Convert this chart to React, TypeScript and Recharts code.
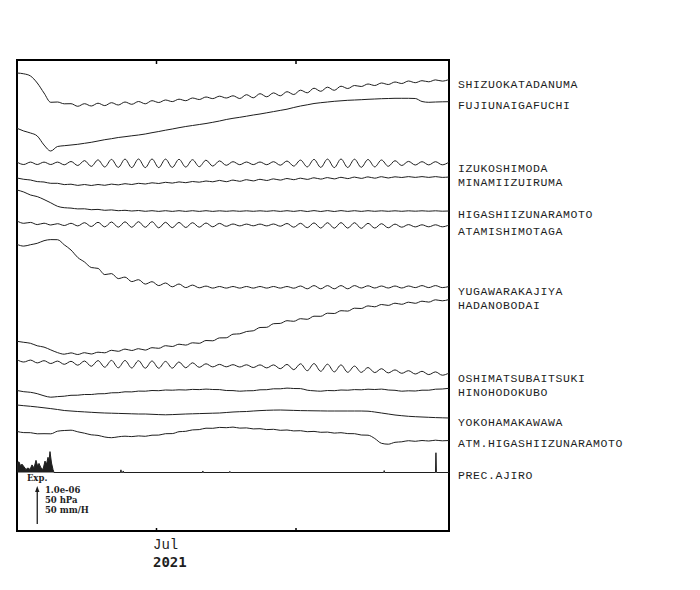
import React from 'react';
import {
  ComposedChart, Line, Area, XAxis, YAxis, ReferenceArea, ReferenceLine, ReferenceDot,
} from 'recharts';

// sample times: days since 31 May 2021, one every 1.5 days
const days = Array.from({ length: 65 }, (_, i) => i * 1.5);

// trace readings, chart units (SCALE units = 1.0e-06), relative to each trace's end level
const shizuoka = [
  7.0, 6.2, 4, -3, -13, -22.3, -22, -23.8, -23.7, -26.3,
  -23.7, -26, -23.2, -25.6, -22.7, -25, -22, -24.3, -21.5, -23.8,
  -20.7, -22.5, -20, -21.6, -19.2, -20.7, -18, -19.5, -17, -18.6,
  -16.2, -18, -15.8, -18.5, -14.7, -17.8, -13.7, -16.8, -12.9, -15.8,
  -11.7, -14.5, -10.2, -12.8, -8.2, -11.3, -7.2, -10.3, -6.2, -8.5,
  -5.5, -6.5, -4, -5.5, -3, -4.5, -2, -3.5, -1, -2.7,
  -0.7, -1.8, 0.1, -1.1, 0.5,
];
const fujiunai = [
  -26.3, -29, -31, -34, -43, -49, -44.5, -43.7, -43, -42.3,
  -41.3, -40.3, -39, -37.7, -36.7, -35.5, -34.7, -33.8, -33, -32,
  -30.7, -29.5, -28.2, -27, -25.7, -24.5, -23.5, -22.5, -21.5, -20.3,
  -19, -17.5, -16.3, -15.3, -14.2, -13, -12, -10.8, -9.6, -8.4,
  -7.2, -5.5, -4, -2.8, -1.5, -0.7, 0, 0.7, 1.2, 1.7,
  2, 2.3, 2.7, 3, 3.3, 3.5, 3.7, 3.7, 3.7, 3.5,
  0.5, -0.3, 0, 0.2, 0.3,
];
const izukoshimoda = [
  0.9, -1.5, 0.9, -1.5, 0.9, -1.5, 0.9, -1.8, 1.5, -2.5,
  2.4, -3.4, 3.1, -4.0, 3.6, -4.4, 3.9, -4.6, 4.0, -4.6,
  4.0, -4.6, 3.9, -4.4, 3.7, -4.1, 3.3, -3.7, 2.8, -3.1,
  2.1, -2.3, 1.3, -1.7, 1.0, -1.6, 1.0, -1.7, 1.3, -2.2,
  2.0, -3.1, 2.9, -3.9, 3.6, -4.4, 3.9, -4.6, 4.0, -4.5,
  3.8, -4.3, 3.5, -3.9, 3.0, -3.3, 2.3, -2.5, 1.6, -2.0,
  1.3, -1.9, 1.3, -1.8, 0.9,
];
const minamiizu = [
  -1.0, -2.3, -3.0, -4.6, -5.0, -6.3, -6.3, -7.6, -7.2, -8.4,
  -7.5, -8.5, -7.5, -8.3, -7.1, -7.9, -6.7, -7.5, -6.3, -7.0,
  -5.8, -6.5, -5.3, -6.1, -4.9, -5.7, -4.5, -5.2, -4.0, -4.8,
  -3.4, -4.7, -3.1, -4.3, -2.7, -3.9, -2.3, -3.5, -1.9, -3.1,
  -1.5, -2.7, -1.2, -2.4, -0.8, -2.1, -0.6, -1.9, -0.3, -1.6,
  -0.1, -1.4, 0.1, -1.2, 0.3, -1.0, 0.2, -0.5, 0.4, -0.4,
  0.4, -0.4, 0.4, -0.4, 0,
];
const higashiizu = [
  21, 19, 16, 14.4, 11.5, 8.2, 4.7, 3.3, 2.9, 2.1,
  2.2, 1.3, 1.6, 0.7, 1.1, 0.3, 0.7, 0, 0.5, -0.3,
  0.3, -0.4, 0.3, -0.4, 0.3, -0.4, 0.3, -0.4, 0.3, -0.4,
  0.2, -0.3, 0.2, -0.3, 0.2, -0.3, 0.2, -0.3, 0.3, -0.4,
  0.3, -0.4, 0.4, -0.5, 0.4, -0.5, 0.4, -0.5, 0.4, -0.4,
  0.3, -0.4, 0.3, -0.3, 0.2, -0.3, 0.2, -0.3, 0.2, -0.2,
  0.2, -0.2, 0.2, -0.2, 0,
];
const atami = [
  5.1, 2.7, 3.6, 1.4, 2.8, 1.0, 2.3, 0.5, 2.7, 0.1,
  3.3, -0.5, 3.7, -0.9, 4.0, -1.2, 4.2, -1.3, 4.3, -1.3,
  4.3, -1.8, 3.7, -1.7, 3.6, -1.5, 3.3, -1.2, 3.0, -0.8,
  2.6, -0.3, 2.0, 0.1, 1.9, 0.2, 1.9, 0.1, 2.0, -0.2,
  2.5, -1.2, 2.7, -1.7, 3.1, -2.1, 3.3, -2.2, 3.4, -2.1,
  3.3, -2.4, 2.7, -2.1, 2.3, -1.8, 1.9, -1.2, 1.4, -0.9,
  1.2, -0.8, 1.2, -0.8, 1.0,
];
const yugawara = [
  42.1, 40.4, 41.8, 43.2, 45.8, 46.9, 46.8, 41.7, 36.5, 29.0,
  24.5, 19.0, 18.1, 11.9, 12.9, 7.9, 9.4, 4.9, 6.8, 2.4,
  4.8, 0.9, 3.5, -0.3, 2.5, -1.1, 1.4, -1.3, 0.4, -1.6,
  0.0, -1.6, 0.0, -1.6, 0.0, -1.6, 0.0, -1.6, 0.0, -1.6,
  0.0, -1.7, 0.5, -2.3, 0.9, -2.3, 0.9, -2.3, 0.9, -2.3,
  0.9, -1.5, 0.7, -1.5, 0.5, -1.5, 0.5, -1.5, 0.5, -1.1,
  0.9, -1.1, 0.9, -1.1, 0,
];
const hadano = [
  -41.8, -42.8, -43.8, -46.3, -47.6, -50.4, -53.1, -54.7, -53.4, -55.0,
  -53.2, -54.5, -52.7, -53.3, -50.8, -51.8, -49.6, -51.0, -49.2, -50.6,
  -48.2, -48.8, -46.2, -47.0, -44.7, -45.6, -43.3, -43.8, -41.0, -41.3,
  -38.4, -38.3, -34.7, -34.3, -32.0, -31.3, -28.0, -27.8, -24.2, -23.9,
  -21.2, -21.8, -19.2, -19.8, -16.7, -16.8, -13.7, -14.0, -11.2, -11.6,
  -8.7, -9.0, -6.4, -7.3, -5.0, -5.9, -3.7, -4.8, -2.7, -3.8,
  -1.7, -2.6, -0.3, -1.3, 0,
];
const oshima = [
  14.3, 12.0, 13.9, 11.1, 13.3, 10.5, 12.9, 9.7, 12.7, 8.8,
  13.0, 7.7, 13.4, 6.8, 13.6, 6.2, 13.5, 6.0, 13.3, 5.8,
  13.0, 5.8, 12.6, 5.9, 12.0, 6.2, 11.2, 6.7, 10.2, 7.1,
  9.6, 7.2, 9.3, 7.0, 9.2, 6.5, 9.1, 6.1, 9.1, 5.3,
  9.6, 4.3, 10.2, 3.3, 10.4, 2.7, 9.8, 2.1, 9.1, 1.7,
  7.9, 1.6, 6.5, 1.4, 5.3, 1.1, 4.1, 0.7, 3.3, 0.0,
  2.7, -0.6, 2.1, -1.2, 1.0,
];
const hinohodo = [
  -2.5, -3.7, -4.3, -5.7, -7.8, -9.2, -8.6, -8.2, -7.3, -7.2,
  -6.5, -6.5, -5.8, -5.7, -4.8, -4.7, -3.8, -3.9, -3.1, -3.2,
  -2.5, -2.7, -2.0, -2.2, -1.8, -2.0, -1.4, -1.6, -1.1, -1.5,
  -1.6, -2.5, -2.6, -3.2, -2.8, -2.7, -1.8, -1.7, -0.8, -0.8,
  -0.1, -0.5, -0.6, -2.2, -2.8, -3.2, -2.5, -2.7, -2.0, -2.2,
  -1.6, -1.8, -1.2, -1.5, -1.1, -2.0, -2.3, -3.2, -2.8, -3.0,
  -2.2, -2.2, -1.2, -1.0, -0.3,
];
const yokohama = [
  13, 12.3, 11.7, 11, 10.2, 9.4, 8.5, 7.5, 7, 6.5,
  6.1, 5.7, 5.3, 5, 4.8, 4.6, 4.4, 4.2, 4, 4,
  3.7, 3.4, 3.2, 3.4, 3.7, 4, 4.2, 4.4, 4.6, 4.8,
  5, 5.5, 6, 6.3, 6.5, 7, 7.4, 7.7, 7.9, 8,
  7.8, 7.6, 7.4, 7.3, 7.2, 7.1, 7, 7, 7, 7,
  7, 7, 6.8, 6, 5, 4, 3, 2.3, 1.7, 1.3,
  1, 0.7, 0.4, 0.2, 0,
];
const atmPressure = [
  8.1, 6.9, 6.8, 5.7, 5.8, 5.7, 8.3, 9.0, 9.3, 7.7,
  6.3, 4.7, 4.1, 2.5, 1.8, 2.7, 3.3, 2.9, 3.6, 3.2,
  4.3, 4.4, 5.8, 5.9, 7.8, 8.2, 9.6, 9.9, 11.3, 11.2,
  12.1, 11.8, 12.4, 11.4, 11.6, 10.6, 10.8, 9.9, 10.2, 9.2,
  9.5, 8.6, 8.8, 7.8, 8.1, 7.2, 7.4, 6.4, 6.8, 5.9,
  5.8, 4.5, 4.3, 1.0, -3.8, -4.7, -2.8, -2.3, -1.2, -1.8,
  -1.0, -1.5, -0.7, -1.3, -1.0,
];

// precipitation at Ajiro, mm/H
const rainDays = [
  0, 0.44, 0.78, 1.11, 1.56, 2.0, 2.44, 2.89, 3.33, 3.78,
  4.22, 4.56, 4.89, 5.33, 5.78, 6.22, 6.56, 6.89, 7.11, 7.33,
  7.67, 8.0, 8.22, 23.0, 23.1, 23.2, 23.5, 23.6, 23.7, 41.2,
  41.3, 41.4, 47.2, 47.3, 47.4, 81.5, 81.6, 81.7, 93.0, 93.1,
  93.2, 96,
];
const rainMm = [
  12.5, 14, 9, 11, 7.5, 4, 6, 4, 10, 6,
  16, 9, 12, 6, 4, 15, 11, 20, 15, 27.5,
  12.5, 4, 0, 0, 3.5, 0, 0, 2, 0, 0,
  2, 0, 0, 1.5, 0, 0, 2.5, 0, 0, 26,
  0, 0,
];

const stations = [
  'SHIZUOKATADANUMA', 'FUJIUNAIGAFUCHI', 'IZUKOSHIMODA', 'MINAMIIZUIRUMA',
  'HIGASHIIZUNARAMOTO', 'ATAMISHIMOTAGA', 'YUGAWARAKAJIYA', 'HADANOBODAI',
  'OSHIMATSUBAITSUKI', 'HINOHODOKUBO', 'YOKOHAMAKAWAWA', 'ATM.HIGASHIIZUNARAMOTO',
  'PREC.AJIRO',
];
const traces = [
  shizuoka, fujiunai, izukoshimoda, minamiizu, higashiizu, atami,
  yugawara, hadano, oshima, hinohodo, yokohama, atmPressure,
];
// stacking: where each trace ends, and where its name sits
const offsets = [451, 429, 368, 354, 320, 305, 244.5, 231.5, 157, 143, 113, 91.5];
const RAIN_BASE = 58.5;
const labelAt = [447, 426, 363, 349.5, 316.7, 300.5, 240.5, 226.5, 153, 139.5, 109.5, 87.7, 56];

const SCALE = 38; // chart units for 1.0e-06 / 50 hPa / 50 mm/H
const TOP = 471;
const monthTicks = [31, 62];

const rows = days.map((day, i) => {
  const r: Record<string, number> = { day };
  traces.forEach((t, k) => { r[`s${k}`] = offsets[k] + t[i]; });
  return r;
});
const rainRows = rainDays.map((day, i) => ({ day, rain: RAIN_BASE + (rainMm[i] * SCALE) / 50 }));
const nameAt = new Map(labelAt.map((v, i) => [v, stations[i]]));

const INK = '#1e1e1e';

function MonthTick({ x, y, payload }: any) {
  if (payload.value !== 31) return <g />;
  return (
    <g>
      <text x={x - 3.5} y={y + 14} fontFamily="Liberation Mono" fontSize={14} fill={INK} dominantBaseline="central">Jul</text>
      <text x={x - 3.5} y={y + 30.7} fontFamily="DejaVu Sans Mono" fontWeight="bold" fontSize={14} fill={INK} dominantBaseline="central">2021</text>
    </g>
  );
}

const note = (text: string, x: number, y: number) => (
  <ReferenceDot
    key={text} x={x} y={y} r={0}
    shape={(p: any) => (
      <text x={p.cx} y={p.cy} fontFamily="DejaVu Serif" fontWeight="bold" fontSize={8.5} fill={INK} dominantBaseline="central">{text}</text>
    )}
  />
);

export default function App() {
  return (
    <ComposedChart width={684} height={574} data={rows} margin={{ top: 52, right: 13, bottom: 11, left: 9 }}>
      <XAxis dataKey="day" type="number" domain={[0, 96]} allowDataOverflow ticks={monthTicks}
        axisLine={false} tickLine={false} tickSize={0} tickMargin={0} height={40} tick={<MonthTick />} />
      <YAxis orientation="right" type="number" domain={[0, TOP]} allowDataOverflow ticks={labelAt} interval={0}
        axisLine={false} tickLine={false} tickSize={0} tickMargin={9} width={230}
        tick={{ fontFamily: 'Liberation Mono', fontSize: 11.5, letterSpacing: 0.6, fill: INK, textAnchor: 'start' }}
        tickFormatter={(v) => nameAt.get(v) ?? ''} />
      <ReferenceArea x1={0} x2={96} y1={0} y2={TOP} fill="none" fillOpacity={0} stroke="#000" strokeWidth={2} />
      {monthTicks.map((m) => (
        <ReferenceLine key={`t${m}`} segment={[{ x: m, y: TOP }, { x: m, y: TOP - 4 }]} stroke="#000" strokeWidth={1.5} />
      ))}
      {monthTicks.map((m) => (
        <ReferenceLine key={`b${m}`} segment={[{ x: m, y: 0 }, { x: m, y: 3 }]} stroke="#000" strokeWidth={1.5} />
      ))}
      <Area data={rainRows} dataKey="rain" type="linear" baseValue={RAIN_BASE} stroke={INK} strokeWidth={1}
        fill={INK} fillOpacity={1} dot={false} activeDot={false} isAnimationActive={false} />
      {traces.map((_, k) => (
        <Line key={k} dataKey={`s${k}`} type="monotone" stroke={INK} strokeWidth={1} dot={false}
          activeDot={false} isAnimationActive={false} />
      ))}
      {/* scale block */}
      <ReferenceLine segment={[{ x: 4.5, y: 7 }, { x: 4.5, y: 7 + SCALE - 4 }]} stroke={INK} strokeWidth={1.3} />
      <ReferenceDot x={4.5} y={7 + SCALE} r={0}
        shape={(p: any) => <path d={`M${p.cx},${p.cy} L${p.cx - 2.2},${p.cy + 6} L${p.cx + 2.2},${p.cy + 6} Z`} fill={INK} />} />
      {note('Exp.', 2.2, 53)}
      {note('1.0e-06', 6.2, 41)}
      {note('50 hPa', 6.2, 31.3)}
      {note('50 mm/H', 6.2, 21)}
    </ComposedChart>
  );
}
